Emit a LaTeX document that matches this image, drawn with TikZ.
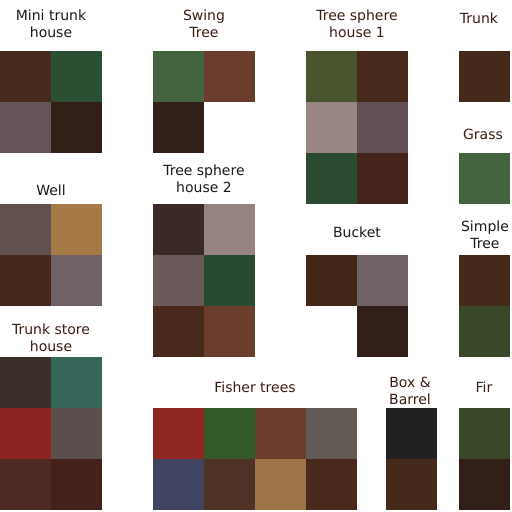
\documentclass[tikz,border=0pt]{standalone}
\usepackage{fontspec}
\setmainfont{DejaVu Sans}
\usepackage{tikz}
\usetikzlibrary{positioning}

\definecolor{bark}{HTML}{472A1C}
\definecolor{barkdark}{HTML}{321F18}
\definecolor{leafdeep}{HTML}{2A4F33}
\definecolor{leaf}{HTML}{43633F}
\definecolor{leafolive}{HTML}{4A5530}
\definecolor{leafpine}{HTML}{3A4829}
\definecolor{stone}{HTML}{665558}
\definecolor{stonelight}{HTML}{998582}
\definecolor{stonegrey}{HTML}{706264}
\definecolor{rust}{HTML}{6B3B2C}
\definecolor{ochre}{HTML}{A67A47}
\definecolor{labelbrown}{HTML}{3A1C14}

\begin{document}
\begin{tikzpicture}[
  x=1pt, y=-1pt,
  font=\fontsize{14}{17}\selectfont,
  tile/.style={minimum size=51pt, inner sep=0pt, outer sep=0pt, anchor=north west},
  title/.style={align=center, inner sep=0pt, text=labelbrown},
  titledark/.style={align=center, inner sep=0pt, text=black!90}
]
\useasboundingbox (0,0) rectangle (512,512);

% Mini trunk house
\node[titledark] (miniT) at (51,24) {Mini trunk\\house};
\node[tile, fill=bark] (mini1) at (0,51) {};
\node[tile, fill=leafdeep] (mini2) at (51,51) {};
\node[tile, fill=stone] (mini3) at (0,102) {};
\node[tile, fill=barkdark] (mini4) at (51,102) {};

% Swing tree
\node[title] (swingT) at (204,24) {Swing\\Tree};
\node[tile, fill=leaf] (swing1) at (153,51) {};
\node[tile, fill=rust] (swing2) at (204,51) {};
\node[tile, fill=barkdark] (swing3) at (153,102) {};

% Tree sphere house 1
\node[title] (sphereAT) at (357,24) {Tree sphere\\house 1};
\node[tile, fill=leafolive] (sphereA1) at (306,51) {};
\node[tile, fill=bark] (sphereA2) at (357,51) {};
\node[tile, fill=stonelight] (sphereA3) at (306,102) {};
\node[tile, fill=stone!95!black] (sphereA4) at (357,102) {};
\node[tile, fill={rgb,255:red,42;green,74;blue,50}] (sphereA5) at (306,153) {};
\node[tile, fill={rgb,255:red,69;green,37;blue,27}] (sphereA6) at (357,153) {};

% Trunk and grass
\node[title] (trunkT) at (479,18) {Trunk};
\node[tile, fill={rgb,255:red,69;green,41;blue,27}] (trunk1) at (459,51) {};
\node[title] (grassT) at (483,134) {Grass};
\node[tile, fill=leaf] (grass1) at (459,153) {};

% Well
\node[titledark] (wellT) at (51,190) {Well};
\node[tile, fill={rgb,255:red,97;green,80;blue,78}] (well1) at (0,204) {};
\node[tile, fill=ochre] (well2) at (51,204) {};
\node[tile, fill={rgb,255:red,71;green,40;blue,28}] (well3) at (0,255) {};
\node[tile, fill=stonegrey] (well4) at (51,255) {};

% Tree sphere house 2
\node[titledark] (sphereBT) at (204,179) {Tree sphere\\house 2};
\node[tile, fill={rgb,255:red,58;green,42;blue,38}] (sphereB1) at (153,204) {};
\node[tile, fill={rgb,255:red,151;green,132;blue,130}] (sphereB2) at (204,204) {};
\node[tile, fill={rgb,255:red,107;green,90;blue,90}] (sphereB3) at (153,255) {};
\node[tile, fill={rgb,255:red,39;green,74;blue,48}] (sphereB4) at (204,255) {};
\node[tile, fill={rgb,255:red,72;green,41;blue,28}] (sphereB5) at (153,306) {};
\node[tile, fill={rgb,255:red,107;green,61;blue,45}] (sphereB6) at (204,306) {};

% Bucket
\node[titledark] (bucketT) at (357,232) {Bucket};
\node[tile, fill={rgb,255:red,69;green,39;blue,26}] (bucket1) at (306,255) {};
\node[tile, fill=stonegrey] (bucket2) at (357,255) {};
\node[tile, fill=barkdark] (bucket3) at (357,306) {};

% Simple tree
\node[titledark] (simpleT) at (485,235) {Simple\\Tree};
\node[tile, fill={rgb,255:red,69;green,41;blue,27}] (simple1) at (459,255) {};
\node[tile, fill=leafpine] (simple2) at (459,306) {};

% Trunk store house
\node[title] (storeT) at (51,338) {Trunk store\\house};
\node[tile, fill={rgb,255:red,60;green,47;blue,43}] (store1) at (0,357) {};
\node[tile, fill={rgb,255:red,54;green,102;blue,90}] (store2) at (51,357) {};
\node[tile, fill={rgb,255:red,138;green,36;blue,32}] (store3) at (0,408) {};
\node[tile, fill={rgb,255:red,93;green,78;blue,78}] (store4) at (51,408) {};
\node[tile, fill={rgb,255:red,79;green,42;blue,34}] (store5) at (0,459) {};
\node[tile, fill={rgb,255:red,67;green,32;blue,26}] (store6) at (51,459) {};

% Fisher trees
\node[title] (fisherT) at (255,387) {Fisher trees};
\node[tile, fill={rgb,255:red,142;green,38;blue,34}] (fisher1) at (153,408) {};
\node[tile, fill={rgb,255:red,52;green,90;blue,41}] (fisher2) at (204,408) {};
\node[tile, fill=rust] (fisher3) at (255,408) {};
\node[tile, fill={rgb,255:red,100;green,90;blue,85}] (fisher4) at (306,408) {};
\node[tile, fill={rgb,255:red,65;green,67;blue,99}] (fisher5) at (153,459) {};
\node[tile, fill={rgb,255:red,80;green,49;blue,37}] (fisher6) at (204,459) {};
\node[tile, fill={rgb,255:red,158;green,116;blue,71}] (fisher7) at (255,459) {};
\node[tile, fill={rgb,255:red,72;green,41;blue,28}] (fisher8) at (306,459) {};

% Box and barrel
\node[title] (boxT) at (410,391) {Box \&\\Barrel};
\node[tile, fill={rgb,255:red,34;green,32;blue,32}] (box1) at (386,408) {};
\node[tile, fill={rgb,255:red,69;green,41;blue,27}] (box2) at (386,459) {};

% Fir
\node[title] (firT) at (484,387) {Fir};
\node[tile, fill=leafpine] (fir1) at (459,408) {};
\node[tile, fill=barkdark] (fir2) at (459,459) {};
\end{tikzpicture}
\end{document}
